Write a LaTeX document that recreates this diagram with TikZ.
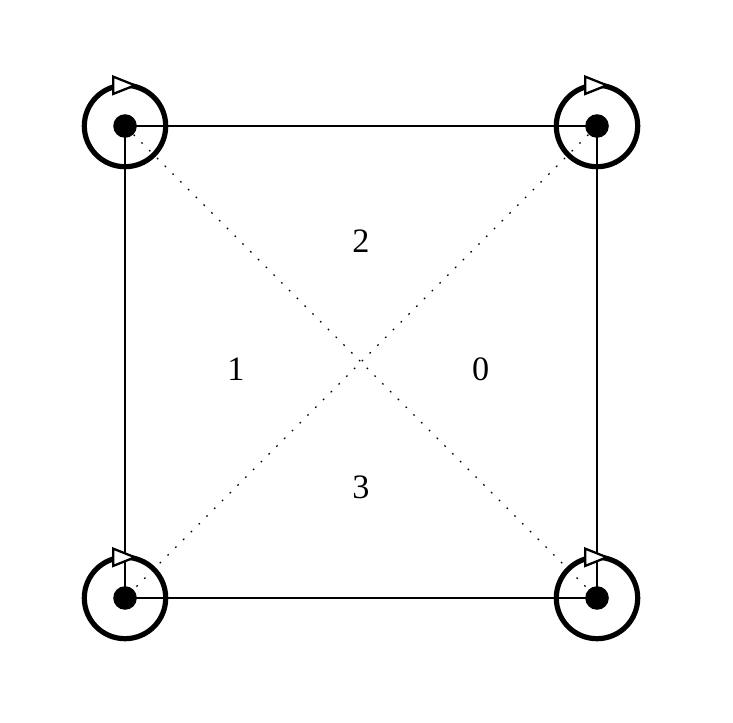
\documentclass[tikz,border=0pt]{standalone}
\usepackage{fontspec}
\setmainfont{Liberation Serif}
\usetikzlibrary{arrows.meta, calc}
\tikzset{vertex/.style={circle, fill, inner sep=0pt, minimum size=0.4cm},
edge/.style={line width=1pt},
diag/.style={line width=0.6pt, dash pattern=on 0.8pt off 4.5pt},
selfloop/.style={line width=2.5pt},
looptip/.style={line width=1.1pt, -{Triangle[fill=white, length=0.44cm, width=0.34cm]}},
region/.style={font=\fontsize{16.5}{18}\selectfont}
}

\begin{document}
\begin{tikzpicture}
\useasboundingbox (-2.119,-2.102) rectangle (10.305,10.136);
\node[vertex] (tl) at (0,8) {};
\node[vertex] (tr) at (8,8) {};
\node[vertex] (bl) at (0,0) {};
\node[vertex] (br) at (8,0) {};
% sides of the square
\draw[edge] (tl.center) -- (tr.center);
\draw[edge] (tl.center) -- (bl.center);
\draw[edge] (tr.center) -- (br.center);
\draw[edge] (bl.center) -- (br.center);
% diagonals
\draw[diag] (tl) -- (br);
\draw[diag] (tr) -- (bl);
% self loops
\foreach \v in {tl,tr,bl,br}{
  \draw[selfloop] (\v.center) circle[radius=0.69];
  \draw[looptip] ($(\v)+(0.1,0.69)$) -- ($(\v)+(0.22,0.69)$);
}
\node[region] (r2) at ($(tl)!0.5!(br)+(0,2.04)$) {2};
\node[region] (r3) at ($(tl)!0.5!(br)+(0,-2.12)$) {3};
\node[region] (r1) at ($(tl)!0.5!(br)+(-2.12,-0.12)$) {1};
\node[region] (r0) at ($(tl)!0.5!(br)+(2.03,-0.12)$) {0};
\end{tikzpicture}
\end{document}
